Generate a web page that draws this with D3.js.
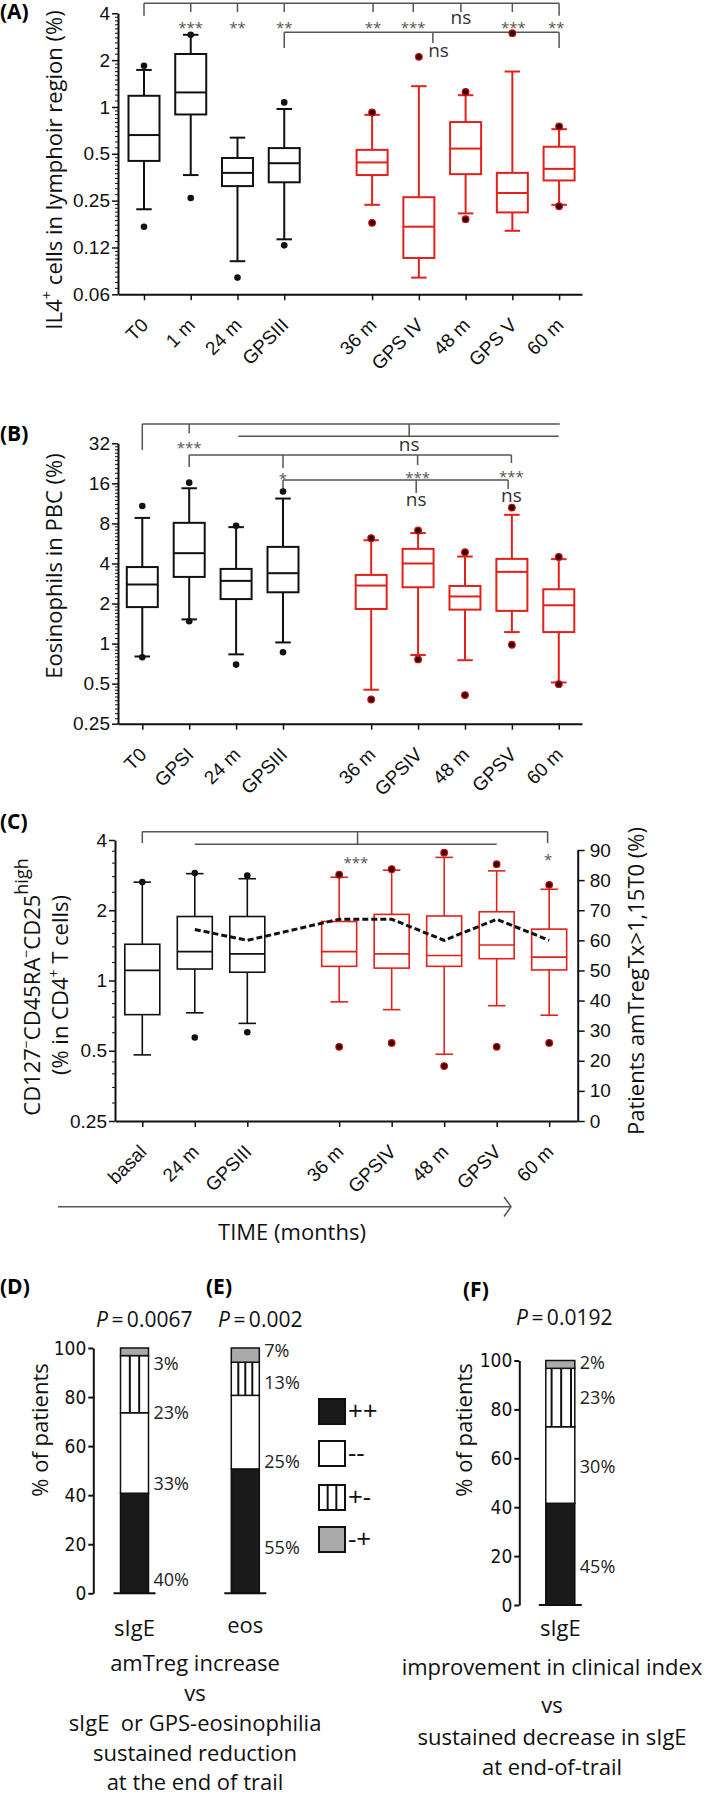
<!DOCTYPE html>
<meta charset="utf-8">
<style>
body { margin: 0; background: #fff; }
svg { font-family: "Open Sans", sans-serif; background: #fff; }
.axis path, .axis line { stroke: #111; }
.axis path { stroke-width: 2px; }
.axis text { fill: #111; font-size: 19px; }
.minor line { stroke: #111; stroke-width: 1px; }
.minor path { display: none; }
.pct text { font-family: "Liberation Sans Narrow", "DejaVu Sans Condensed", sans-serif; font-size: 19px; }
.brk { fill: none; stroke: #555; stroke-width: 1.5px; }
.star { fill: #555; font-size: 15px; text-anchor: middle; }
.ns { fill: #333; font-size: 19px; text-anchor: middle; }
.plabel { font-weight: bold; font-size: 21px; }
.title { font-size: 22px; fill: #111; text-anchor: middle; }
</style>
<body>
<script src="https://cdn.jsdelivr.net/npm/d3@7"></script>
<script>

// ---------- panel A: IL4+ cells ----------
var aCats = ["T0", "1 m", "24 m", "GPSIII", "36 m", "GPS IV", "48 m", "GPS V", "60 m"];
// [whisker low, Q1, median, Q3, whisker high]
var aStats = [
  [0.22, 0.45, 0.66, 1.18, 1.73],
  [0.365, 0.895, 1.24, 2.19, 2.91],
  [0.102, 0.31, 0.377, 0.47, 0.635],
  [0.141, 0.328, 0.435, 0.544, 0.97],
  [0.235, 0.365, 0.44, 0.53, 0.89],
  [0.08, 0.107, 0.17, 0.263, 1.36],
  [0.207, 0.37, 0.54, 0.80, 1.19],
  [0.16, 0.21, 0.28, 0.377, 1.69],
  [0.235, 0.337, 0.40, 0.555, 0.72]
];
var aOutliers = [[1.84, 0.17], [2.91, 0.26], [0.08], [1.07, 0.129], [0.923, 0.18],
  [2.10], [1.25, 0.19], [2.98], [0.75, 0.23]];
var aTicks = [4, 2, 1, 0.5, 0.25, 0.125, 0.0625];
var aTickLabels = ["4", "2", "1", "0.5", "0.25", "0.12", "0.06"];

// ---------- panel B: eosinophils ----------
var bCats = ["T0", "GPSI", "24 m", "GPSIII", "36 m", "GPSIV", "48 m", "GPSV", "60 m"];
var bStats = [
  [0.80, 1.88, 2.78, 3.76, 8.8],
  [1.52, 3.17, 4.78, 8.08, 14.7],
  [0.83, 2.16, 2.96, 3.64, 7.5],
  [1.02, 2.43, 3.38, 5.33, 12.3],
  [0.45, 1.82, 2.73, 3.28, 5.98],
  [0.82, 2.65, 4.0, 5.15, 6.77],
  [0.75, 1.80, 2.26, 2.71, 4.51],
  [1.22, 1.76, 3.46, 4.33, 9.28],
  [0.51, 1.22, 1.94, 2.56, 4.31]
];
var bOutliers = [[10.8, 0.79], [16.2, 1.47], [7.67, 0.695], [13.9, 0.86], [6.2, 0.38],
  [7.08, 0.76], [4.86, 0.41], [10.5, 0.98], [4.48, 0.495]];
var bTicks = [32, 16, 8, 4, 2, 1, 0.5, 0.25];
var bTickLabels = ["32", "16", "8", "4", "2", "1", "0.5", "0.25"];

// ---------- panel C: amTreg ----------
var cCats = ["basal", "24 m", "GPSIII", "36 m", "GPSIV", "48 m", "GPSV", "60 m"];
var cStats = [
  [0.48, 0.714, 1.105, 1.43, 2.64],
  [0.727, 1.12, 1.33, 1.88, 2.87],
  [0.655, 1.085, 1.30, 1.88, 2.73],
  [0.81, 1.15, 1.33, 1.79, 2.77],
  [0.75, 1.13, 1.30, 1.92, 2.97],
  [0.483, 1.15, 1.28, 1.89, 3.37],
  [0.78, 1.24, 1.42, 1.97, 2.95],
  [0.71, 1.11, 1.26, 1.66, 2.46]
];
var cOutliers = [[2.64], [2.89, 0.57], [2.82, 0.60], [2.84, 0.52], [3.0, 0.54],
  [3.53, 0.43], [3.15, 0.52], [2.57, 0.54]];
var cPatients = [null, 63.6, 60, 67, 67, 60, 67, 60];
var cTicks = [4, 2, 1, 0.5, 0.25];
var cRightTicks = [0, 10, 20, 30, 40, 50, 60, 70, 80, 90];

// ---------- panels D, E, F: stacked bars ----------
var stackKeys = ["++", "--", "+-", "-+"];
var deCats = ["sIgE", "eos"];
var deBlack = [40.8, 50.7];
var deWhite = [32.8, 30.0];
var deHatch = [23.3, 13.5];
var deGray = [3.1, 5.8];
var deLabels = [["40%", "33%", "23%", "3%"], ["55%", "25%", "13%", "7%"]];
var deLabelAt = [[6, 45, 74, 94], [19, 54, 86, 99]];
var fCats = ["sIgE"];
var fBlack = [41.6];
var fWhite = [31.3];
var fHatch = [23.9];
var fGray = [3.2];
var fLabels = [["45%", "30%", "23%", "2%"]];
var fLabelAt = [[16, 57, 85, 99.5]];
var pctTicks = [0, 20, 40, 60, 80, 100];

var RED = "#e3211c";

var svg = d3.select("body").append("svg")
    .attr("width", 709)
    .attr("height", 1796);

function minorValues(lo, hi, steps) {
  var out = [];
  for (var a = lo; a < hi; a *= 2) {
    for (var j = 1; j < steps; j++) out.push(a * (1 + j / steps));
  }
  return out;
}

function yAxisLog(y, xPos, ticks, labels, steps) {
  var d = y.domain();
  svg.append("g")
      .attr("class", "minor")
      .attr("transform", "translate(" + xPos + ",0)")
      .call(d3.axisLeft(y).tickValues(minorValues(d[0], d[1], steps)).tickFormat("").tickSize(3).tickSizeOuter(0));
  svg.append("g")
      .attr("class", "axis")
      .attr("transform", "translate(" + xPos + ",0)")
      .call(d3.axisLeft(y).tickValues(ticks).tickFormat(function(v, i) { return labels[i]; })
        .tickSize(6).tickPadding(2).tickSizeOuter(0))
      .selectAll("line").attr("stroke-width", 1.5);
}

function xAxisCats(x, yPos, cats, slot) {
  var g = svg.append("g")
      .attr("class", "axis")
      .attr("transform", "translate(0," + yPos + ")")
      .call(d3.axisBottom(x).tickValues(cats.map(function(c, i) { return slot(i); }))
        .tickFormat(function(v, i) { return cats[i]; }).tickSize(6).tickSizeOuter(0));
  g.selectAll("line").attr("stroke-width", 1.5);
  g.selectAll("text")
      .attr("x", 0).attr("y", 0).attr("dy", 0)
      .attr("text-anchor", "end")
      .attr("font-size", 19)
      .attr("transform", "translate(5,32) rotate(-45)");
}

function boxes(x, y, slot, stats, outliers, nBlack, bw, sw) {
  stats.forEach(function(s, i) {
    var col = i < nBlack ? "#111" : RED;
    var cx = x(slot(i));
    var g = svg.append("g").attr("stroke", col).attr("stroke-width", sw).attr("fill", "none");
    g.append("line").attr("x1", cx).attr("x2", cx).attr("y1", y(s[0])).attr("y2", y(s[1]));
    g.append("line").attr("x1", cx).attr("x2", cx).attr("y1", y(s[3])).attr("y2", y(s[4]));
    g.append("line").attr("x1", cx - bw / 4).attr("x2", cx + bw / 4).attr("y1", y(s[0])).attr("y2", y(s[0]));
    g.append("line").attr("x1", cx - bw / 4).attr("x2", cx + bw / 4).attr("y1", y(s[4])).attr("y2", y(s[4]));
    g.append("rect").attr("x", cx - bw / 2).attr("width", bw)
        .attr("y", y(s[3])).attr("height", y(s[1]) - y(s[3])).attr("fill", "#fff");
    g.append("line").attr("x1", cx - bw / 2).attr("x2", cx + bw / 2).attr("y1", y(s[2])).attr("y2", y(s[2]));
    svg.selectAll(null)
        .data(outliers[i])
      .enter().append("circle")
        .attr("cx", cx)
        .attr("cy", function(v) { return y(v); })
        .attr("r", 3.3)
        .attr("fill", i < nBlack ? "#111" : "#3a0000")
        .attr("stroke", i < nBlack ? "none" : "#c01010")
        .attr("stroke-width", 1.2);
  });
}

function brackets(x, spec) {
  var g = svg.append("g");
  spec.h.forEach(function(d) {
    g.append("line").attr("class", "brk").attr("x1", x(d[0])).attr("x2", x(d[1])).attr("y1", d[2]).attr("y2", d[2]);
  });
  spec.v.forEach(function(d) {
    g.append("line").attr("class", "brk").attr("x1", x(d[0])).attr("x2", x(d[0])).attr("y1", d[1]).attr("y2", d[2]);
  });
  spec.t.forEach(function(d) {
    var isNs = d[2] === "ns";
    g.append("text").attr("class", isNs ? "ns" : "star")
        .attr("x", x(d[0])).attr("y", d[1] + (isNs ? 5 : 10)).text(d[2]);
  });
}

function panelLabel(txt, x, y) {
  svg.append("text").attr("class", "plabel").attr("x", x).attr("y", y).text(txt);
}

// ================= A =================
var aSlot = function(i) { return i < 4 ? i : i + 0.88; };
var xA = d3.scaleLinear().domain([-0.556, 9.37]).range([118, 582]);
var yA = d3.scaleLog().base(2).domain([0.0625, 4]).range([294.3, 13.3]);

panelLabel("(A)", 0, 19);
brackets(xA, {
  h: [[0, 8.88, 3.3], [3, 8.88, 32.3]],
  v: [[0, 3.3, 15.7], [8.88, 3.3, 15.7], [1, 3.3, 12], [2, 3.3, 12], [3, 3.3, 12], [4.9, 3.3, 12],
      [5.76, 3.3, 12], [6.78, 3.3, 12], [7.88, 3.3, 12],
      [3, 32.3, 48], [8.88, 32.3, 48], [6.18, 32.3, 43]],
  t: [[1, 23, "***"], [2, 23, "**"], [3, 23, "**"], [4.9, 23, "**"], [5.76, 23, "***"],
      [6.78, 19, "ns"], [7.9, 23, "***"], [8.82, 23, "**"], [6.3, 52, "ns"]]
});
boxes(xA, yA, aSlot, aStats, aOutliers, 4, 31, 2);
yAxisLog(yA, 118, aTicks, aTickLabels, 10);
xAxisCats(xA, 294.3, aCats, aSlot);

var tA = svg.append("text").attr("class", "title")
    .attr("transform", "translate(62,170) rotate(-90)");
tA.append("tspan").text("IL4");
tA.append("tspan").attr("baseline-shift", "super").attr("font-size", 15).text("+");
tA.append("tspan").text(" cells in lymphoir region (%)");

// ================= B =================
var xB = d3.scaleLinear().domain([-0.518, 9.375]).range([118, 582]);
var yB = d3.scaleLog().base(2).domain([0.25, 32]).range([723.7, 443.3]);

panelLabel("(B)", 0, 441);
brackets(xB, {
  h: [[0, 8.9, 424], [2.05, 8.88, 436.3], [1, 7.87, 455], [3, 7.8, 480]],
  v: [[0, 424, 450], [1, 424, 433.3], [5.69, 424, 436.3],
      [1, 455, 467], [7.87, 455, 463], [5.87, 455, 465], [3, 455, 468],
      [3, 480, 490], [7.8, 480, 489], [5.84, 480, 493]],
  t: [[1, 442.7, "***"], [5.69, 445.5, "ns"], [3, 474, "*"], [5.87, 472.7, "***"],
      [7.87, 471.7, "***"], [5.84, 501, "ns"], [7.87, 497, "ns"]]
});
boxes(xB, yB, aSlot, bStats, bOutliers, 4, 31, 2);
yAxisLog(yB, 118, bTicks, bTickLabels, 10);
xAxisCats(xB, 723.7, bCats, aSlot);

svg.append("text").attr("class", "title")
    .attr("transform", "translate(62,566) rotate(-90)")
    .text("Eosinophils in PBC (%)");

// ================= C =================
var cSlot = function(i) { return i < 3 ? i : i + 0.75; };
var xC = d3.scaleLinear().domain([-0.52, 8.28]).range([115, 577]);
var yC = d3.scaleLog().base(2).domain([0.25, 4]).range([1121, 840]);
var yR = d3.scaleLinear().domain([0, 90]).range([1121, 850]);

panelLabel("(C)", 0, 829);
brackets(xC, {
  h: [[0, 7.72, 831.7], [1, 6.75, 844.3]],
  v: [[0, 831.7, 843], [7.72, 831.7, 843], [4.1, 831.7, 844.3]],
  t: [[4.07, 858.3, "***"], [7.73, 855, "*"]]
});
boxes(xC, yC, cSlot, cStats, cOutliers, 3, 35, 1.6);

svg.append("path")
    .datum(cPatients)
    .attr("fill", "none")
    .attr("stroke", "#111")
    .attr("stroke-width", 3)
    .attr("stroke-dasharray", "6,3")
    .attr("d", d3.line()
      .defined(function(d) { return d != null; })
      .x(function(d, i) { return xC(cSlot(i)); })
      .y(function(d) { return yR(d); }));

yAxisLog(yC, 115, cTicks, cTicks.map(String), 5);
xAxisCats(xC, 1121, cCats, cSlot);

var gR = svg.append("g")
    .attr("class", "axis")
    .attr("transform", "translate(577.7,0)")
    .call(d3.axisRight(yR).tickValues(cRightTicks).tickSize(7).tickPadding(5).tickSizeOuter(0));
gR.selectAll("line").attr("stroke-width", 1.5);
gR.selectAll("text").attr("font-size", 19);

var tC1 = svg.append("text").attr("class", "title").attr("font-size", 21)
    .attr("transform", "translate(40,987) rotate(-90)");
tC1.append("tspan").text("CD127");
tC1.append("tspan").attr("baseline-shift", "super").attr("font-size", 14).text("\u2212");
tC1.append("tspan").attr("baseline-shift", "0").text("CD45RA");
tC1.append("tspan").attr("baseline-shift", "super").attr("font-size", 14).text("\u2212");
tC1.append("tspan").attr("baseline-shift", "0").text("CD25");
tC1.append("tspan").attr("baseline-shift", "super").attr("font-size", 18).text("high");

var tC2 = svg.append("text").attr("class", "title").attr("font-size", 21)
    .attr("transform", "translate(68,985) rotate(-90)");
tC2.append("tspan").text("(% in CD4");
tC2.append("tspan").attr("baseline-shift", "super").attr("font-size", 14).text("+");
tC2.append("tspan").attr("baseline-shift", "0").text(" T cells)");

svg.append("text").attr("class", "title").attr("font-size", 21)
    .attr("transform", "translate(644,981) rotate(-90)")
    .text("Patients amTregTx>1,15T0 (%)");

// time arrow
svg.append("line").attr("x1", 58).attr("x2", 510).attr("y1", 1206.7).attr("y2", 1206.7)
    .attr("stroke", "#555").attr("stroke-width", 1.5);
svg.append("path").attr("d", "M504,1197L511,1206.7L504,1216.5")
    .attr("fill", "none").attr("stroke", "#555").attr("stroke-width", 1.5);
svg.append("text").attr("class", "title").attr("x", 292).attr("y", 1240).text("TIME (months)");

// ================= D / E / F =================
function stackedBars(cats, black, white, hatch, gray, x, y, bw, labels, labelAt, hatchLines, catY) {
  var rows = cats.map(function(c, i) {
    return {cat: c, "++": black[i], "--": white[i], "+-": hatch[i], "-+": gray[i]};
  });
  var series = d3.stack().keys(stackKeys)(rows);
  var fills = {"++": "#1a1a1a", "--": "#fff", "+-": "#fff", "-+": "#aaa"};
  series.forEach(function(s) {
    s.forEach(function(d, i) {
      var cx = x(cats[i]);
      svg.append("rect")
          .attr("x", cx - bw / 2).attr("width", bw)
          .attr("y", y(d[1])).attr("height", y(d[0]) - y(d[1]))
          .attr("fill", fills[s.key]).attr("stroke", "#111").attr("stroke-width", 1.5);
      if (s.key === "+-") {
        hatchLines[i].forEach(function(f) {
          svg.append("line")
              .attr("x1", cx - bw / 2 + f * bw).attr("x2", cx - bw / 2 + f * bw)
              .attr("y1", y(d[1])).attr("y2", y(d[0]))
              .attr("stroke", "#111").attr("stroke-width", 2);
        });
      }
    });
  });
  cats.forEach(function(c, i) {
    var cx = x(c);
    svg.append("line").attr("x1", cx - bw / 2 - 7).attr("x2", cx + bw / 2 + 7)
        .attr("y1", y(0)).attr("y2", y(0)).attr("stroke", "#111").attr("stroke-width", 2);
    labels[i].forEach(function(t, k) {
      svg.append("text")
          .attr("x", cx + bw / 2 + 5).attr("y", y(labelAt[i][k]) + 7)
          .attr("font-size", 18).attr("fill", "#222").text(t);
    });
    svg.append("text").attr("class", "title").attr("x", cx).attr("y", catY[i]).text(c);
  });
}

function pctAxis(y, xPos) {
  var g = svg.append("g")
      .attr("class", "axis pct")
      .attr("transform", "translate(" + xPos + ",0)")
      .call(d3.axisLeft(y).tickValues(pctTicks).tickSize(5).tickPadding(2).tickSizeOuter(0));
  g.selectAll("line").attr("stroke-width", 2);
}

var yD = d3.scaleLinear().domain([0, 100]).range([1593.3, 1348]);
var xD = d3.scalePoint().domain(deCats).range([134.5, 245.3]);
var yF = d3.scaleLinear().domain([0, 100]).range([1605, 1360.5]);
var xF = d3.scalePoint().domain(fCats).range([560.3, 560.3]);

panelLabel("(D)", 0, 1294);
panelLabel("(E)", 206, 1294);
panelLabel("(F)", 463, 1297);

function pText(x, y, val) {
  var t = svg.append("text").attr("x", x).attr("y", y).attr("font-size", 21).attr("fill", "#111");
  t.append("tspan").attr("font-style", "italic").text("P");
  t.append("tspan").text("\u2009=\u2009" + val);
}
pText(96, 1327, "0.0067");
pText(218, 1327, "0.002");
pText(516, 1325, "0.0192");

stackedBars(deCats, deBlack, deWhite, deHatch, deGray, xD, yD, 28, deLabels, deLabelAt,
  [[1 / 3, 2 / 3], [0.25, 0.5, 0.75]], [1636, 1633]);
stackedBars(fCats, fBlack, fWhite, fHatch, fGray, xF, yF, 29, fLabels, fLabelAt,
  [[0.2, 0.53, 0.87]], [1636]);
pctAxis(yD, 93.3);
pctAxis(yF, 519.3);

svg.append("text").attr("class", "title")
    .attr("transform", "translate(48,1430) rotate(-90)").text("% of patients");
svg.append("text").attr("class", "title")
    .attr("transform", "translate(472,1430) rotate(-90)").text("% of patients");

// legend
var legFill = ["#1a1a1a", "#fff", "#fff", "#aaa"];
var legTop = [1399, 1441, 1485, 1527];
stackKeys.forEach(function(k, i) {
  svg.append("rect").attr("x", 319).attr("y", legTop[i]).attr("width", 26).attr("height", 25)
      .attr("fill", legFill[i]).attr("stroke", "#111").attr("stroke-width", 2);
  if (k === "+-") {
    [1 / 3, 2 / 3].forEach(function(f) {
      svg.append("line").attr("x1", 319 + 26 * f).attr("x2", 319 + 26 * f)
          .attr("y1", legTop[i]).attr("y2", legTop[i] + 25).attr("stroke", "#111").attr("stroke-width", 2);
    });
  }
  svg.append("text").attr("x", 348).attr("y", legTop[i] + 21).attr("font-size", 26).attr("fill", "#111").text(k);
});

// captions
var capDE = ["amTreg increase", "vs", "sIgE  or GPS-eosinophilia", "sustained reduction", "at the end of trail"];
var capF = ["improvement in clinical index", "vs", "sustained decrease in sIgE", "at end-of-trail"];
var capDEy = [1671, 1701, 1731, 1761, 1790];
var capFy = [1675, 1713, 1745, 1775];
capDE.forEach(function(t, i) {
  svg.append("text").attr("class", "title").attr("x", 195).attr("y", capDEy[i])
      .attr("xml:space", "preserve").style("white-space", "pre").text(t);
});
capF.forEach(function(t, i) {
  svg.append("text").attr("class", "title").attr("x", 552).attr("y", capFy[i]).text(t);
});

</script>
</body>
